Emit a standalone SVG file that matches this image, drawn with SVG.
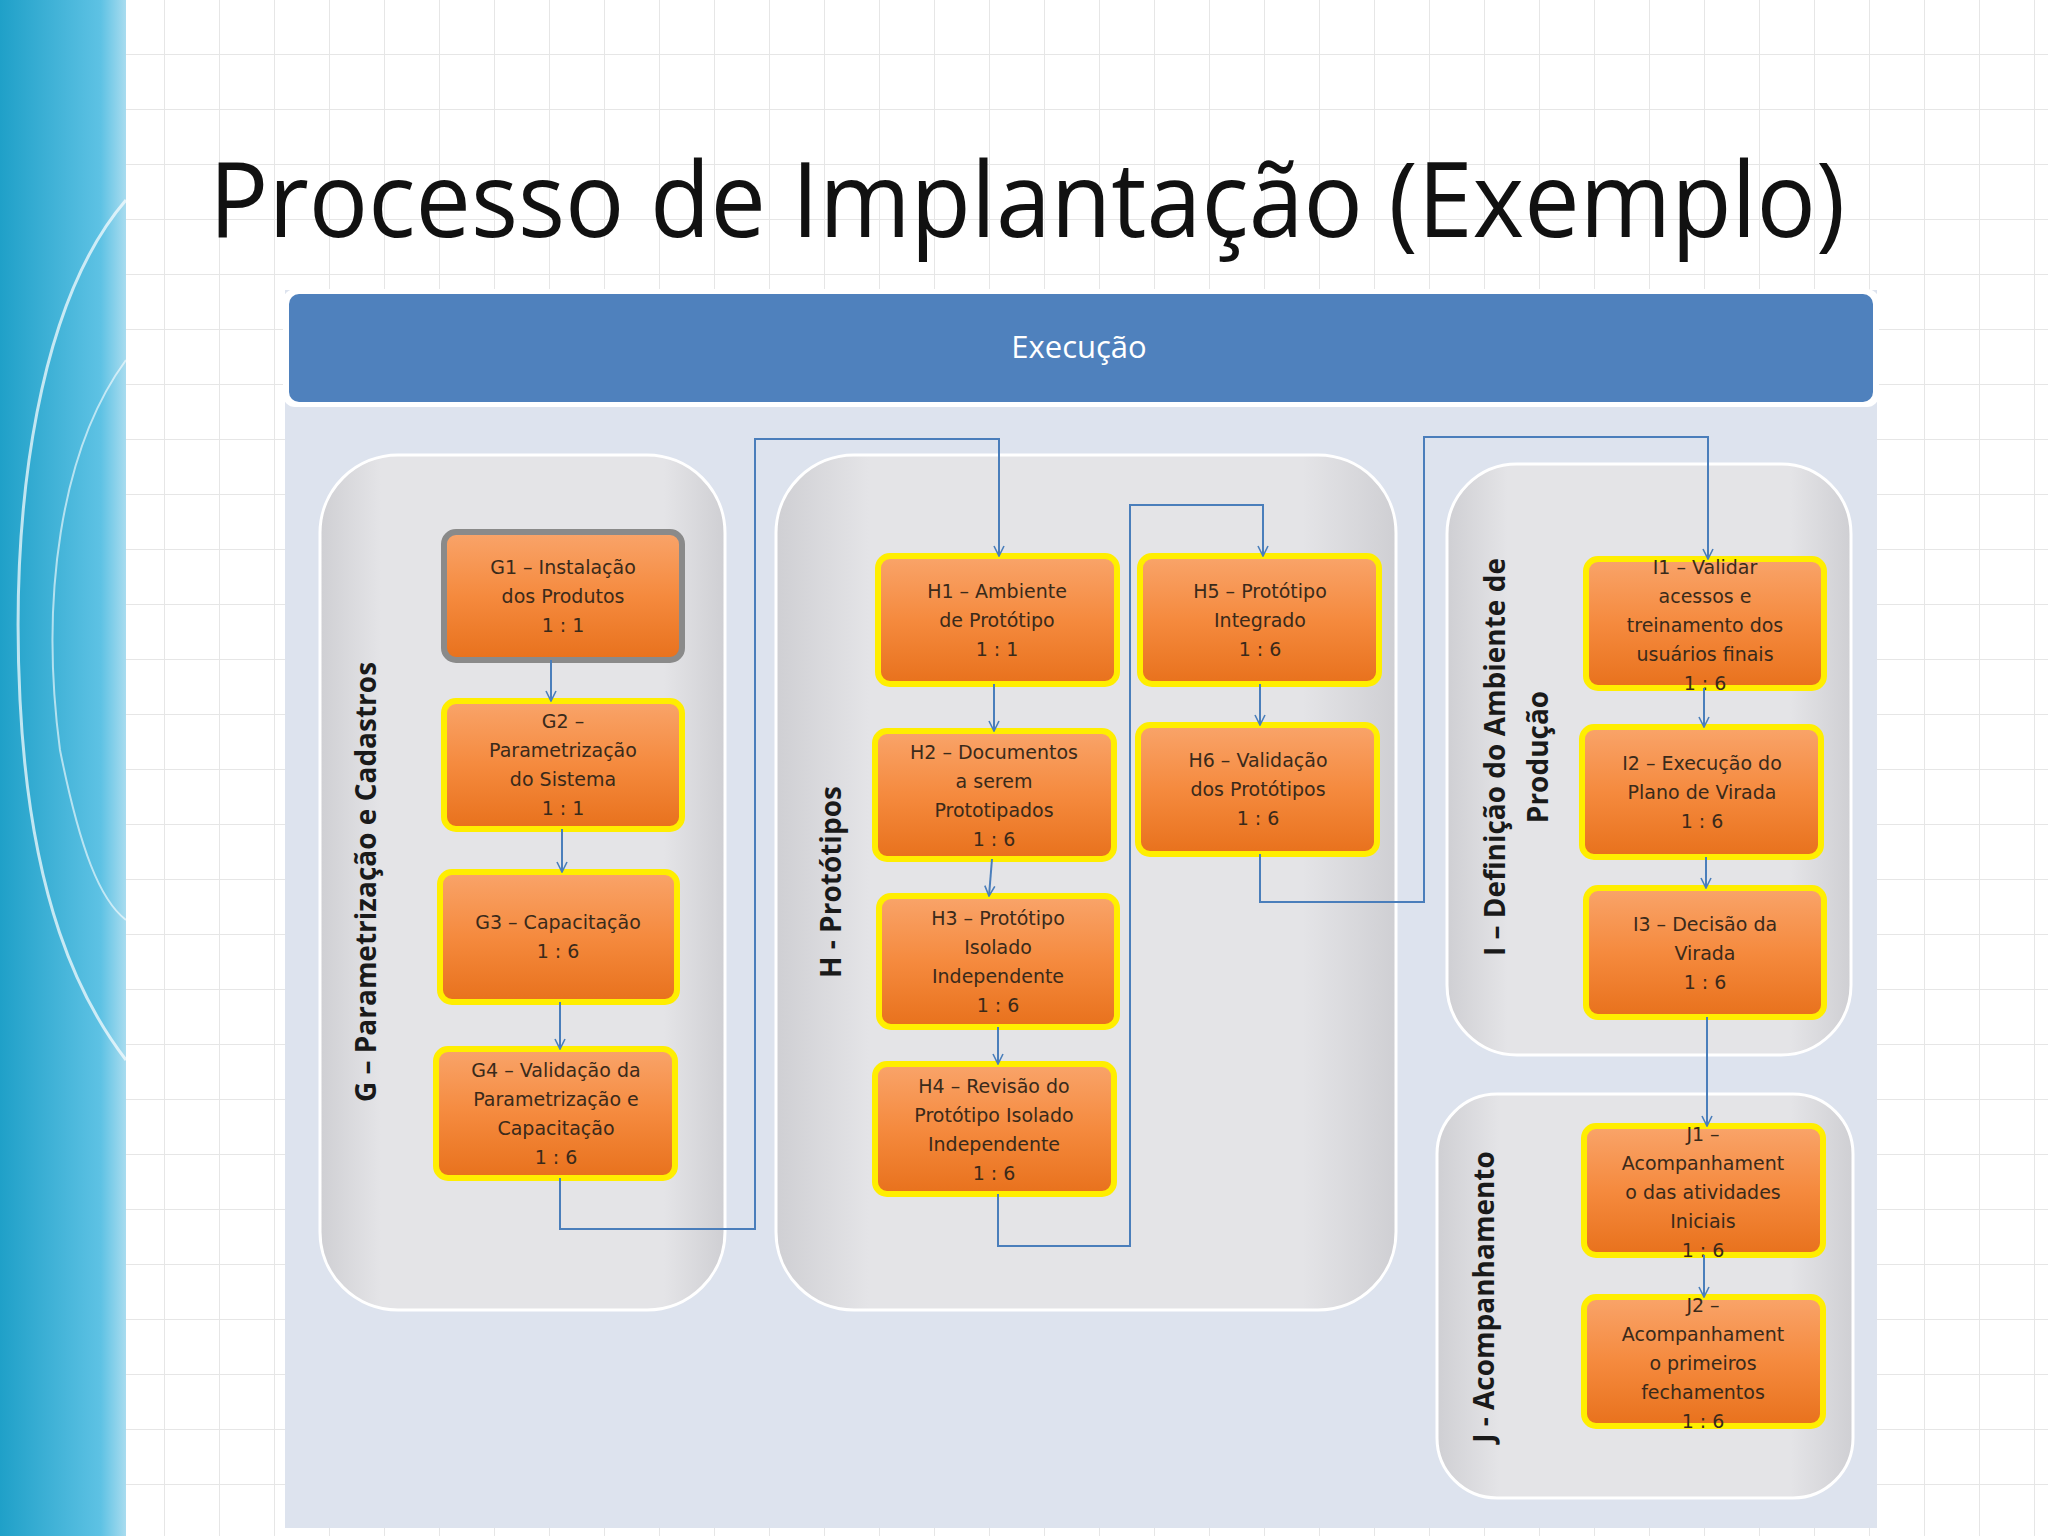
<svg xmlns="http://www.w3.org/2000/svg" width="2048" height="1536" viewBox="0 0 2048 1536">
<defs>
<pattern id="grid" width="55" height="55" patternUnits="userSpaceOnUse"><rect width="55" height="55" fill="#ffffff"/><path d="M55 0V55M0 55H55" stroke="#e6e6e6" stroke-width="2" fill="none"/></pattern>
<linearGradient id="band" x1="0" y1="0" x2="1" y2="0"><stop offset="0" stop-color="#1fa0c8"/><stop offset="0.8" stop-color="#5ec2e4"/><stop offset="1" stop-color="#a9dcef"/></linearGradient>
<linearGradient id="org" x1="0" y1="0" x2="0" y2="1"><stop offset="0" stop-color="#f9a46a"/><stop offset="0.5" stop-color="#f58a3e"/><stop offset="1" stop-color="#e8711c"/></linearGradient>
<linearGradient id="grp" x1="0" y1="0" x2="1" y2="0"><stop offset="0" stop-color="#cfcfd3"/><stop offset="0.15" stop-color="#e4e4e7"/><stop offset="0.85" stop-color="#e4e4e7"/><stop offset="1" stop-color="#cfcfd3"/></linearGradient>
<marker id="arr" viewBox="0 0 12 12" refX="11" refY="6" markerWidth="12" markerHeight="12" markerUnits="userSpaceOnUse" orient="auto"><path d="M1 1L11 6L1 11" fill="none" stroke="#4a7ebb" stroke-width="1.6"/></marker>
</defs>
<style>
.grp{fill:url(#grp);stroke:#ffffff;stroke-width:3}
.nd{fill:url(#org);stroke:#ffee00;stroke-width:6}
.nt{font-family:"DejaVu Sans",sans-serif;font-size:19px;fill:#3a2a1a;text-anchor:middle}
.gl{font-family:"Open Sans",sans-serif;font-size:28px;font-weight:bold;fill:#1a1a1a;text-anchor:middle}
.cn{fill:none;stroke:#4a7ebb;stroke-width:2;marker-end:url(#arr)}
</style>
<rect width="2048" height="1536" fill="url(#grid)"/>
<rect x="0" y="0" width="126" height="1536" fill="url(#band)"/>
<path d="M126 200C40 300 10 500 20 700C30 900 80 1000 126 1060" fill="none" stroke="#ffffff" stroke-width="3" opacity="0.7"/>
<path d="M126 360C60 450 40 600 60 750C80 850 100 900 126 920" fill="none" stroke="#ffffff" stroke-width="2" opacity="0.6"/>
<text x="209" y="237" font-family="Open Sans, sans-serif" font-size="104" fill="#111" textLength="1636" lengthAdjust="spacingAndGlyphs">Processo de Implantação (Exemplo)</text>
<rect x="285" y="290" width="1592" height="1238" fill="#dde3ee"/>
<g id="header"><rect x="283" y="289" width="1596" height="118" rx="12" fill="#ffffff"/><rect x="289" y="294" width="1584" height="108" rx="10" fill="#4f81bd"/><text x="1079" y="358" font-family="Open Sans, sans-serif" font-size="31" fill="#ffffff" text-anchor="middle">Execução</text></g>
<g id="groupG"><rect class="grp" x="320" y="455" width="405" height="855" rx="78"/><text class="gl" transform="translate(376,882) rotate(-90)">G – Parametrização e Cadastros</text></g>
<g id="groupH"><rect class="grp" x="776" y="455" width="620" height="855" rx="78"/><text class="gl" transform="translate(841,882) rotate(-90)">H - Protótipos</text></g>
<g id="groupI"><rect class="grp" x="1447" y="464" width="404" height="591" rx="70"/><text class="gl" transform="translate(1505,757) rotate(-90)">I – Definição do Ambiente de</text><text class="gl" transform="translate(1548,757) rotate(-90)">Produção</text></g>
<g id="groupJ"><rect class="grp" x="1437" y="1094" width="416" height="404" rx="60"/><text class="gl" transform="translate(1494,1297) rotate(-90)">J - Acompanhamento</text></g>
<g id="G1"><rect x="444" y="532" width="238" height="128" rx="12" fill="url(#org)" stroke="#8a8a8a" stroke-width="6"/><text class="nt" x="563" y="574">G1 – Instalação</text><text class="nt" x="563" y="603">dos Produtos</text><text class="nt" x="563" y="632">1 : 1</text></g>
<g id="G2"><rect class="nd" x="444" y="701" width="238" height="128" rx="12"/><text class="nt" x="563" y="728">G2 –</text><text class="nt" x="563" y="757">Parametrização</text><text class="nt" x="563" y="786">do Sistema</text><text class="nt" x="563" y="815">1 : 1</text></g>
<g id="G3"><rect class="nd" x="440" y="872" width="237" height="130" rx="12"/><text class="nt" x="558" y="929">G3 – Capacitação</text><text class="nt" x="558" y="958">1 : 6</text></g>
<g id="G4"><rect class="nd" x="436" y="1049" width="239" height="129" rx="12"/><text class="nt" x="556" y="1077">G4 – Validação da</text><text class="nt" x="556" y="1106">Parametrização e</text><text class="nt" x="556" y="1135">Capacitação</text><text class="nt" x="556" y="1164">1 : 6</text></g>
<g id="H1"><rect class="nd" x="878" y="556" width="239" height="128" rx="12"/><text class="nt" x="997" y="598">H1 – Ambiente</text><text class="nt" x="997" y="627">de Protótipo</text><text class="nt" x="997" y="656">1 : 1</text></g>
<g id="H2"><rect class="nd" x="875" y="731" width="239" height="128" rx="12"/><text class="nt" x="994" y="759">H2 – Documentos</text><text class="nt" x="994" y="788">a serem</text><text class="nt" x="994" y="817">Prototipados</text><text class="nt" x="994" y="846">1 : 6</text></g>
<g id="H3"><rect class="nd" x="879" y="896" width="238" height="131" rx="12"/><text class="nt" x="998" y="925">H3 – Protótipo</text><text class="nt" x="998" y="954">Isolado</text><text class="nt" x="998" y="983">Independente</text><text class="nt" x="998" y="1012">1 : 6</text></g>
<g id="H4"><rect class="nd" x="875" y="1064" width="239" height="130" rx="12"/><text class="nt" x="994" y="1093">H4 – Revisão do</text><text class="nt" x="994" y="1122">Protótipo Isolado</text><text class="nt" x="994" y="1151">Independente</text><text class="nt" x="994" y="1180">1 : 6</text></g>
<g id="H5"><rect class="nd" x="1140" y="556" width="239" height="128" rx="12"/><text class="nt" x="1260" y="598">H5 – Protótipo</text><text class="nt" x="1260" y="627">Integrado</text><text class="nt" x="1260" y="656">1 : 6</text></g>
<g id="H6"><rect class="nd" x="1138" y="725" width="239" height="129" rx="12"/><text class="nt" x="1258" y="767">H6 – Validação</text><text class="nt" x="1258" y="796">dos Protótipos</text><text class="nt" x="1258" y="825">1 : 6</text></g>
<g id="I1"><rect class="nd" x="1586" y="559" width="238" height="129" rx="12"/><text class="nt" x="1705" y="574">I1 – Validar</text><text class="nt" x="1705" y="603">acessos e</text><text class="nt" x="1705" y="632">treinamento dos</text><text class="nt" x="1705" y="661">usuários finais</text><text class="nt" x="1705" y="690">1 : 6</text></g>
<g id="I2"><rect class="nd" x="1582" y="727" width="239" height="130" rx="12"/><text class="nt" x="1702" y="770">I2 – Execução do</text><text class="nt" x="1702" y="799">Plano de Virada</text><text class="nt" x="1702" y="828">1 : 6</text></g>
<g id="I3"><rect class="nd" x="1586" y="888" width="238" height="129" rx="12"/><text class="nt" x="1705" y="931">I3 – Decisão da</text><text class="nt" x="1705" y="960">Virada</text><text class="nt" x="1705" y="989">1 : 6</text></g>
<g id="J1"><rect class="nd" x="1584" y="1126" width="239" height="129" rx="12"/><text class="nt" x="1703" y="1141">J1 –</text><text class="nt" x="1703" y="1170">Acompanhament</text><text class="nt" x="1703" y="1199">o das atividades</text><text class="nt" x="1703" y="1228">Iniciais</text><text class="nt" x="1703" y="1257">1 : 6</text></g>
<g id="J2"><rect class="nd" x="1584" y="1297" width="239" height="129" rx="12"/><text class="nt" x="1703" y="1312">J2 –</text><text class="nt" x="1703" y="1341">Acompanhament</text><text class="nt" x="1703" y="1370">o primeiros</text><text class="nt" x="1703" y="1399">fechamentos</text><text class="nt" x="1703" y="1428">1 : 6</text></g>
<g id="connectors">
<path class="cn" d="M551 660V701"/>
<path class="cn" d="M562 829V872"/>
<path class="cn" d="M560 1002V1049"/>
<path class="cn" d="M560 1178V1229H755V439H999V556"/>
<path class="cn" d="M994 684V731"/>
<path class="cn" d="M992 859L989 896"/>
<path class="cn" d="M998 1027V1064"/>
<path class="cn" d="M998 1194V1246H1130V505H1263V556"/>
<path class="cn" d="M1260 684V725"/>
<path class="cn" d="M1260 854V902H1424V437H1708V559"/>
<path class="cn" d="M1704 688V727"/>
<path class="cn" d="M1706 857V888"/>
<path class="cn" d="M1707 1017V1126"/>
<path class="cn" d="M1704 1255V1297"/>
</g>
</svg>
